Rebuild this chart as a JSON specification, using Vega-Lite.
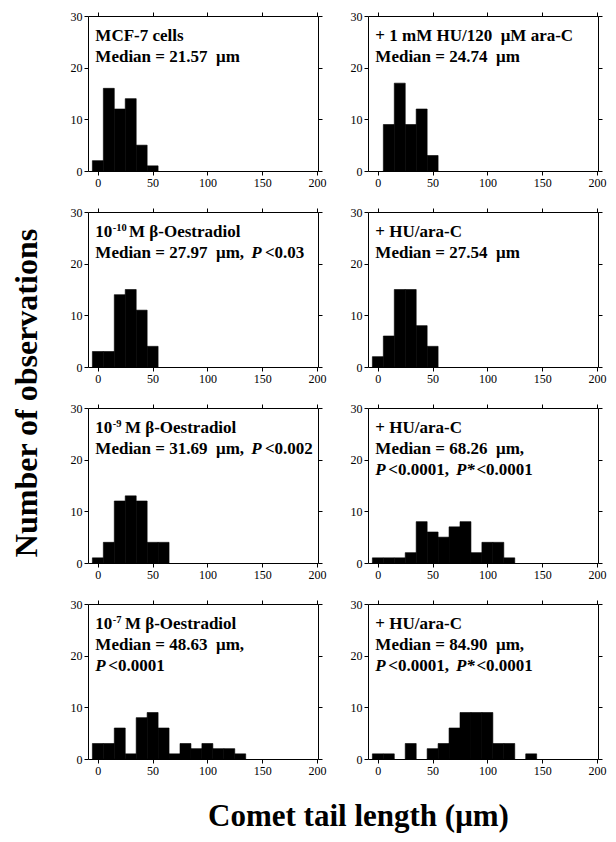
{
  "$schema": "https://vega.github.io/schema/vega-lite/v6.json",
  "background": "white",
  "padding": {"left": 10, "top": 10, "right": 5, "bottom": 5},
  "config": {
    "font": "Liberation Serif",
    "view": {"stroke": null},
    "axis": {"labelFont": "Liberation Serif", "labelFontSize": 12, "labelColor": "black", "domainColor": "black", "tickColor": "black", "grid": false, "tickSize": 4, "labelPadding": 2, "domainWidth": 1, "tickWidth": 1, "labelFlush": false, "labelOverlap": false},
    "text": {"font": "Liberation Serif", "fontWeight": "bold", "fontSize": 17, "align": "left", "baseline": "alphabetic", "color": "black"}
  },
  "title": {"text": "Comet tail length (μm)", "orient": "bottom", "anchor": "middle", "font": "Liberation Serif", "fontSize": 31, "fontWeight": "bold", "color": "black", "offset": 26, "dx": 50},
  "datasets": {
    "p1": [{"bin_start": -5, "bin_end": 5, "count": 2}, {"bin_start": 5, "bin_end": 15, "count": 16}, {"bin_start": 15, "bin_end": 25, "count": 12}, {"bin_start": 25, "bin_end": 35, "count": 14}, {"bin_start": 35, "bin_end": 45, "count": 5}, {"bin_start": 45, "bin_end": 55, "count": 1}],
    "p2": [{"bin_start": 5, "bin_end": 15, "count": 9}, {"bin_start": 15, "bin_end": 25, "count": 17}, {"bin_start": 25, "bin_end": 35, "count": 9}, {"bin_start": 35, "bin_end": 45, "count": 12}, {"bin_start": 45, "bin_end": 55, "count": 3}],
    "p3": [{"bin_start": -5, "bin_end": 5, "count": 3}, {"bin_start": 5, "bin_end": 15, "count": 3}, {"bin_start": 15, "bin_end": 25, "count": 14}, {"bin_start": 25, "bin_end": 35, "count": 15}, {"bin_start": 35, "bin_end": 45, "count": 11}, {"bin_start": 45, "bin_end": 55, "count": 4}],
    "p4": [{"bin_start": -5, "bin_end": 5, "count": 2}, {"bin_start": 5, "bin_end": 15, "count": 6}, {"bin_start": 15, "bin_end": 25, "count": 15}, {"bin_start": 25, "bin_end": 35, "count": 15}, {"bin_start": 35, "bin_end": 45, "count": 8}, {"bin_start": 45, "bin_end": 55, "count": 4}],
    "p5": [{"bin_start": -5, "bin_end": 5, "count": 1}, {"bin_start": 5, "bin_end": 15, "count": 4}, {"bin_start": 15, "bin_end": 25, "count": 12}, {"bin_start": 25, "bin_end": 35, "count": 13}, {"bin_start": 35, "bin_end": 45, "count": 12}, {"bin_start": 45, "bin_end": 55, "count": 4}, {"bin_start": 55, "bin_end": 65, "count": 4}],
    "p6": [{"bin_start": -5, "bin_end": 5, "count": 1}, {"bin_start": 5, "bin_end": 15, "count": 1}, {"bin_start": 15, "bin_end": 25, "count": 1}, {"bin_start": 25, "bin_end": 35, "count": 2}, {"bin_start": 35, "bin_end": 45, "count": 8}, {"bin_start": 45, "bin_end": 55, "count": 6}, {"bin_start": 55, "bin_end": 65, "count": 5}, {"bin_start": 65, "bin_end": 75, "count": 7}, {"bin_start": 75, "bin_end": 85, "count": 8}, {"bin_start": 85, "bin_end": 95, "count": 2}, {"bin_start": 95, "bin_end": 105, "count": 4}, {"bin_start": 105, "bin_end": 115, "count": 4}, {"bin_start": 115, "bin_end": 125, "count": 1}],
    "p7": [{"bin_start": -5, "bin_end": 5, "count": 3}, {"bin_start": 5, "bin_end": 15, "count": 3}, {"bin_start": 15, "bin_end": 25, "count": 6}, {"bin_start": 25, "bin_end": 35, "count": 1}, {"bin_start": 35, "bin_end": 45, "count": 8}, {"bin_start": 45, "bin_end": 55, "count": 9}, {"bin_start": 55, "bin_end": 65, "count": 6}, {"bin_start": 65, "bin_end": 75, "count": 1}, {"bin_start": 75, "bin_end": 85, "count": 3}, {"bin_start": 85, "bin_end": 95, "count": 2}, {"bin_start": 95, "bin_end": 105, "count": 3}, {"bin_start": 105, "bin_end": 115, "count": 2}, {"bin_start": 115, "bin_end": 125, "count": 2}, {"bin_start": 125, "bin_end": 135, "count": 1}],
    "p8": [{"bin_start": -5, "bin_end": 5, "count": 1}, {"bin_start": 5, "bin_end": 15, "count": 1}, {"bin_start": 25, "bin_end": 35, "count": 3}, {"bin_start": 45, "bin_end": 55, "count": 2}, {"bin_start": 55, "bin_end": 65, "count": 3}, {"bin_start": 65, "bin_end": 75, "count": 6}, {"bin_start": 75, "bin_end": 85, "count": 9}, {"bin_start": 85, "bin_end": 95, "count": 9}, {"bin_start": 95, "bin_end": 105, "count": 9}, {"bin_start": 105, "bin_end": 115, "count": 3}, {"bin_start": 115, "bin_end": 125, "count": 3}, {"bin_start": 135, "bin_end": 145, "count": 1}]
  },
  "vconcat": [{
    "title": {"text": "Number of observations", "orient": "left", "anchor": "middle", "font": "Liberation Serif", "fontSize": 32, "fontWeight": "bold", "color": "black", "offset": 26},
    "columns": 2,
    "spacing": {"row": 41, "column": 50},
    "bounds": "flush",
    "concat": [
      {"width": 230, "height": 155, "data": {"name": "p1"}, "resolve": {"axis": {"x": "independent", "y": "independent"}},
       "layer": [
        {"mark": {"type": "rect", "color": "black", "stroke": "black", "strokeWidth": 0.6}, "encoding": {"x": {"field": "bin_start", "type": "quantitative", "scale": {"domain": [-9, 201], "nice": false, "zero": false}, "axis": {"values": [0, 50, 100, 150, 200], "title": null}}, "x2": {"field": "bin_end"}, "y": {"field": "count", "type": "quantitative", "scale": {"domain": [0, 30], "nice": false}, "axis": {"values": [0, 10, 20, 30], "title": null}}, "y2": {"datum": 0}}},
        {"mark": {"type": "rect", "opacity": 0}, "encoding": {"x": {"field": "bin_start", "type": "quantitative", "axis": {"orient": "top", "values": [0, 50, 100, 150, 200], "labels": false, "title": null}}, "x2": {"field": "bin_end"}, "y": {"field": "count", "type": "quantitative", "axis": {"orient": "right", "values": [0, 10, 20, 30], "labels": false, "title": null}}, "y2": {"datum": 0}}},
        {"data": {"values": [{}]}, "layer": [
          {"mark": {"type": "text", "text": "MCF-7 cells"}, "encoding": {"x": {"datum": -2.3, "type": "quantitative", "axis": null}, "y": {"datum": 25.2, "type": "quantitative", "axis": null}}},
          {"mark": {"type": "text", "text": "Median = 21.57\u00a0 μm"}, "encoding": {"x": {"datum": -2.3, "type": "quantitative", "axis": null}, "y": {"datum": 21.15, "type": "quantitative", "axis": null}}}
        ]}
       ]},
      {"width": 230, "height": 155, "data": {"name": "p2"}, "resolve": {"axis": {"x": "independent", "y": "independent"}},
       "layer": [
        {"mark": {"type": "rect", "color": "black", "stroke": "black", "strokeWidth": 0.6}, "encoding": {"x": {"field": "bin_start", "type": "quantitative", "scale": {"domain": [-9, 201], "nice": false, "zero": false}, "axis": {"values": [0, 50, 100, 150, 200], "title": null}}, "x2": {"field": "bin_end"}, "y": {"field": "count", "type": "quantitative", "scale": {"domain": [0, 30], "nice": false}, "axis": {"values": [0, 10, 20, 30], "title": null}}, "y2": {"datum": 0}}},
        {"mark": {"type": "rect", "opacity": 0}, "encoding": {"x": {"field": "bin_start", "type": "quantitative", "axis": {"orient": "top", "values": [0, 50, 100, 150, 200], "labels": false, "title": null}}, "x2": {"field": "bin_end"}, "y": {"field": "count", "type": "quantitative", "axis": {"orient": "right", "values": [0, 10, 20, 30], "labels": false, "title": null}}, "y2": {"datum": 0}}},
        {"data": {"values": [{}]}, "layer": [
          {"mark": {"type": "text", "text": "+ 1 mM HU/120\u00a0 μM ara-C"}, "encoding": {"x": {"datum": -2.3, "type": "quantitative", "axis": null}, "y": {"datum": 25.2, "type": "quantitative", "axis": null}}},
          {"mark": {"type": "text", "text": "Median = 24.74\u00a0 μm"}, "encoding": {"x": {"datum": -2.3, "type": "quantitative", "axis": null}, "y": {"datum": 21.15, "type": "quantitative", "axis": null}}}
        ]}
       ]},
      {"width": 230, "height": 155, "data": {"name": "p3"}, "resolve": {"axis": {"x": "independent", "y": "independent"}},
       "layer": [
        {"mark": {"type": "rect", "color": "black", "stroke": "black", "strokeWidth": 0.6}, "encoding": {"x": {"field": "bin_start", "type": "quantitative", "scale": {"domain": [-9, 201], "nice": false, "zero": false}, "axis": {"values": [0, 50, 100, 150, 200], "title": null}}, "x2": {"field": "bin_end"}, "y": {"field": "count", "type": "quantitative", "scale": {"domain": [0, 30], "nice": false}, "axis": {"values": [0, 10, 20, 30], "title": null}}, "y2": {"datum": 0}}},
        {"mark": {"type": "rect", "opacity": 0}, "encoding": {"x": {"field": "bin_start", "type": "quantitative", "axis": {"orient": "top", "values": [0, 50, 100, 150, 200], "labels": false, "title": null}}, "x2": {"field": "bin_end"}, "y": {"field": "count", "type": "quantitative", "axis": {"orient": "right", "values": [0, 10, 20, 30], "labels": false, "title": null}}, "y2": {"datum": 0}}},
        {"data": {"values": [{}]}, "layer": [
          {"mark": {"type": "text", "text": "10"}, "encoding": {"x": {"datum": -2.3, "type": "quantitative", "axis": null}, "y": {"datum": 25.2, "type": "quantitative", "axis": null}}},
          {"mark": {"type": "text", "text": "-10", "fontSize": 10.5, "dy": -6}, "encoding": {"x": {"datum": 13.5, "type": "quantitative", "axis": null}, "y": {"datum": 25.2, "type": "quantitative", "axis": null}}},
          {"mark": {"type": "text", "text": "M β-Oestradiol"}, "encoding": {"x": {"datum": 28.5, "type": "quantitative", "axis": null}, "y": {"datum": 25.2, "type": "quantitative", "axis": null}}},
          {"mark": {"type": "text", "text": "Median = 27.97\u00a0 μm,"}, "encoding": {"x": {"datum": -2.3, "type": "quantitative", "axis": null}, "y": {"datum": 21.15, "type": "quantitative", "axis": null}}},
          {"mark": {"type": "text", "text": "P", "fontStyle": "italic"}, "encoding": {"x": {"datum": 140, "type": "quantitative", "axis": null}, "y": {"datum": 21.15, "type": "quantitative", "axis": null}}},
          {"mark": {"type": "text", "text": "<0.03"}, "encoding": {"x": {"datum": 152.5, "type": "quantitative", "axis": null}, "y": {"datum": 21.15, "type": "quantitative", "axis": null}}}
        ]}
       ]},
      {"width": 230, "height": 155, "data": {"name": "p4"}, "resolve": {"axis": {"x": "independent", "y": "independent"}},
       "layer": [
        {"mark": {"type": "rect", "color": "black", "stroke": "black", "strokeWidth": 0.6}, "encoding": {"x": {"field": "bin_start", "type": "quantitative", "scale": {"domain": [-9, 201], "nice": false, "zero": false}, "axis": {"values": [0, 50, 100, 150, 200], "title": null}}, "x2": {"field": "bin_end"}, "y": {"field": "count", "type": "quantitative", "scale": {"domain": [0, 30], "nice": false}, "axis": {"values": [0, 10, 20, 30], "title": null}}, "y2": {"datum": 0}}},
        {"mark": {"type": "rect", "opacity": 0}, "encoding": {"x": {"field": "bin_start", "type": "quantitative", "axis": {"orient": "top", "values": [0, 50, 100, 150, 200], "labels": false, "title": null}}, "x2": {"field": "bin_end"}, "y": {"field": "count", "type": "quantitative", "axis": {"orient": "right", "values": [0, 10, 20, 30], "labels": false, "title": null}}, "y2": {"datum": 0}}},
        {"data": {"values": [{}]}, "layer": [
          {"mark": {"type": "text", "text": "+ HU/ara-C"}, "encoding": {"x": {"datum": -2.3, "type": "quantitative", "axis": null}, "y": {"datum": 25.2, "type": "quantitative", "axis": null}}},
          {"mark": {"type": "text", "text": "Median = 27.54\u00a0 μm"}, "encoding": {"x": {"datum": -2.3, "type": "quantitative", "axis": null}, "y": {"datum": 21.15, "type": "quantitative", "axis": null}}}
        ]}
       ]},
      {"width": 230, "height": 155, "data": {"name": "p5"}, "resolve": {"axis": {"x": "independent", "y": "independent"}},
       "layer": [
        {"mark": {"type": "rect", "color": "black", "stroke": "black", "strokeWidth": 0.6}, "encoding": {"x": {"field": "bin_start", "type": "quantitative", "scale": {"domain": [-9, 201], "nice": false, "zero": false}, "axis": {"values": [0, 50, 100, 150, 200], "title": null}}, "x2": {"field": "bin_end"}, "y": {"field": "count", "type": "quantitative", "scale": {"domain": [0, 30], "nice": false}, "axis": {"values": [0, 10, 20, 30], "title": null}}, "y2": {"datum": 0}}},
        {"mark": {"type": "rect", "opacity": 0}, "encoding": {"x": {"field": "bin_start", "type": "quantitative", "axis": {"orient": "top", "values": [0, 50, 100, 150, 200], "labels": false, "title": null}}, "x2": {"field": "bin_end"}, "y": {"field": "count", "type": "quantitative", "axis": {"orient": "right", "values": [0, 10, 20, 30], "labels": false, "title": null}}, "y2": {"datum": 0}}},
        {"data": {"values": [{}]}, "layer": [
          {"mark": {"type": "text", "text": "10"}, "encoding": {"x": {"datum": -2.3, "type": "quantitative", "axis": null}, "y": {"datum": 25.2, "type": "quantitative", "axis": null}}},
          {"mark": {"type": "text", "text": "-9", "fontSize": 10.5, "dy": -6}, "encoding": {"x": {"datum": 13.5, "type": "quantitative", "axis": null}, "y": {"datum": 25.2, "type": "quantitative", "axis": null}}},
          {"mark": {"type": "text", "text": "M β-Oestradiol"}, "encoding": {"x": {"datum": 24.7, "type": "quantitative", "axis": null}, "y": {"datum": 25.2, "type": "quantitative", "axis": null}}},
          {"mark": {"type": "text", "text": "Median = 31.69\u00a0 μm,"}, "encoding": {"x": {"datum": -2.3, "type": "quantitative", "axis": null}, "y": {"datum": 21.15, "type": "quantitative", "axis": null}}},
          {"mark": {"type": "text", "text": "P", "fontStyle": "italic"}, "encoding": {"x": {"datum": 140, "type": "quantitative", "axis": null}, "y": {"datum": 21.15, "type": "quantitative", "axis": null}}},
          {"mark": {"type": "text", "text": "<0.002"}, "encoding": {"x": {"datum": 152.5, "type": "quantitative", "axis": null}, "y": {"datum": 21.15, "type": "quantitative", "axis": null}}}
        ]}
       ]},
      {"width": 230, "height": 155, "data": {"name": "p6"}, "resolve": {"axis": {"x": "independent", "y": "independent"}},
       "layer": [
        {"mark": {"type": "rect", "color": "black", "stroke": "black", "strokeWidth": 0.6}, "encoding": {"x": {"field": "bin_start", "type": "quantitative", "scale": {"domain": [-9, 201], "nice": false, "zero": false}, "axis": {"values": [0, 50, 100, 150, 200], "title": null}}, "x2": {"field": "bin_end"}, "y": {"field": "count", "type": "quantitative", "scale": {"domain": [0, 30], "nice": false}, "axis": {"values": [0, 10, 20, 30], "title": null}}, "y2": {"datum": 0}}},
        {"mark": {"type": "rect", "opacity": 0}, "encoding": {"x": {"field": "bin_start", "type": "quantitative", "axis": {"orient": "top", "values": [0, 50, 100, 150, 200], "labels": false, "title": null}}, "x2": {"field": "bin_end"}, "y": {"field": "count", "type": "quantitative", "axis": {"orient": "right", "values": [0, 10, 20, 30], "labels": false, "title": null}}, "y2": {"datum": 0}}},
        {"data": {"values": [{}]}, "layer": [
          {"mark": {"type": "text", "text": "+ HU/ara-C"}, "encoding": {"x": {"datum": -2.3, "type": "quantitative", "axis": null}, "y": {"datum": 25.2, "type": "quantitative", "axis": null}}},
          {"mark": {"type": "text", "text": "Median = 68.26\u00a0 μm,"}, "encoding": {"x": {"datum": -2.3, "type": "quantitative", "axis": null}, "y": {"datum": 21.15, "type": "quantitative", "axis": null}}},
          {"mark": {"type": "text", "text": "P", "fontStyle": "italic"}, "encoding": {"x": {"datum": -2.3, "type": "quantitative", "axis": null}, "y": {"datum": 17.1, "type": "quantitative", "axis": null}}},
          {"mark": {"type": "text", "text": "<0.0001,"}, "encoding": {"x": {"datum": 9.5, "type": "quantitative", "axis": null}, "y": {"datum": 17.1, "type": "quantitative", "axis": null}}},
          {"mark": {"type": "text", "text": "P*", "fontStyle": "italic"}, "encoding": {"x": {"datum": 71.3, "type": "quantitative", "axis": null}, "y": {"datum": 17.1, "type": "quantitative", "axis": null}}},
          {"mark": {"type": "text", "text": "<0.0001"}, "encoding": {"x": {"datum": 90, "type": "quantitative", "axis": null}, "y": {"datum": 17.1, "type": "quantitative", "axis": null}}}
        ]}
       ]},
      {"width": 230, "height": 155, "data": {"name": "p7"}, "resolve": {"axis": {"x": "independent", "y": "independent"}},
       "layer": [
        {"mark": {"type": "rect", "color": "black", "stroke": "black", "strokeWidth": 0.6}, "encoding": {"x": {"field": "bin_start", "type": "quantitative", "scale": {"domain": [-9, 201], "nice": false, "zero": false}, "axis": {"values": [0, 50, 100, 150, 200], "title": null}}, "x2": {"field": "bin_end"}, "y": {"field": "count", "type": "quantitative", "scale": {"domain": [0, 30], "nice": false}, "axis": {"values": [0, 10, 20, 30], "title": null}}, "y2": {"datum": 0}}},
        {"mark": {"type": "rect", "opacity": 0}, "encoding": {"x": {"field": "bin_start", "type": "quantitative", "axis": {"orient": "top", "values": [0, 50, 100, 150, 200], "labels": false, "title": null}}, "x2": {"field": "bin_end"}, "y": {"field": "count", "type": "quantitative", "axis": {"orient": "right", "values": [0, 10, 20, 30], "labels": false, "title": null}}, "y2": {"datum": 0}}},
        {"data": {"values": [{}]}, "layer": [
          {"mark": {"type": "text", "text": "10"}, "encoding": {"x": {"datum": -2.3, "type": "quantitative", "axis": null}, "y": {"datum": 25.2, "type": "quantitative", "axis": null}}},
          {"mark": {"type": "text", "text": "-7", "fontSize": 10.5, "dy": -6}, "encoding": {"x": {"datum": 13.5, "type": "quantitative", "axis": null}, "y": {"datum": 25.2, "type": "quantitative", "axis": null}}},
          {"mark": {"type": "text", "text": "M β-Oestradiol"}, "encoding": {"x": {"datum": 24.7, "type": "quantitative", "axis": null}, "y": {"datum": 25.2, "type": "quantitative", "axis": null}}},
          {"mark": {"type": "text", "text": "Median = 48.63\u00a0 μm,"}, "encoding": {"x": {"datum": -2.3, "type": "quantitative", "axis": null}, "y": {"datum": 21.15, "type": "quantitative", "axis": null}}},
          {"mark": {"type": "text", "text": "P", "fontStyle": "italic"}, "encoding": {"x": {"datum": -2.3, "type": "quantitative", "axis": null}, "y": {"datum": 17.1, "type": "quantitative", "axis": null}}},
          {"mark": {"type": "text", "text": "<0.0001"}, "encoding": {"x": {"datum": 9.5, "type": "quantitative", "axis": null}, "y": {"datum": 17.1, "type": "quantitative", "axis": null}}}
        ]}
       ]},
      {"width": 230, "height": 155, "data": {"name": "p8"}, "resolve": {"axis": {"x": "independent", "y": "independent"}},
       "layer": [
        {"mark": {"type": "rect", "color": "black", "stroke": "black", "strokeWidth": 0.6}, "encoding": {"x": {"field": "bin_start", "type": "quantitative", "scale": {"domain": [-9, 201], "nice": false, "zero": false}, "axis": {"values": [0, 50, 100, 150, 200], "title": null}}, "x2": {"field": "bin_end"}, "y": {"field": "count", "type": "quantitative", "scale": {"domain": [0, 30], "nice": false}, "axis": {"values": [0, 10, 20, 30], "title": null}}, "y2": {"datum": 0}}},
        {"mark": {"type": "rect", "opacity": 0}, "encoding": {"x": {"field": "bin_start", "type": "quantitative", "axis": {"orient": "top", "values": [0, 50, 100, 150, 200], "labels": false, "title": null}}, "x2": {"field": "bin_end"}, "y": {"field": "count", "type": "quantitative", "axis": {"orient": "right", "values": [0, 10, 20, 30], "labels": false, "title": null}}, "y2": {"datum": 0}}},
        {"data": {"values": [{}]}, "layer": [
          {"mark": {"type": "text", "text": "+ HU/ara-C"}, "encoding": {"x": {"datum": -2.3, "type": "quantitative", "axis": null}, "y": {"datum": 25.2, "type": "quantitative", "axis": null}}},
          {"mark": {"type": "text", "text": "Median = 84.90\u00a0 μm,"}, "encoding": {"x": {"datum": -2.3, "type": "quantitative", "axis": null}, "y": {"datum": 21.15, "type": "quantitative", "axis": null}}},
          {"mark": {"type": "text", "text": "P", "fontStyle": "italic"}, "encoding": {"x": {"datum": -2.3, "type": "quantitative", "axis": null}, "y": {"datum": 17.1, "type": "quantitative", "axis": null}}},
          {"mark": {"type": "text", "text": "<0.0001,"}, "encoding": {"x": {"datum": 9.5, "type": "quantitative", "axis": null}, "y": {"datum": 17.1, "type": "quantitative", "axis": null}}},
          {"mark": {"type": "text", "text": "P*", "fontStyle": "italic"}, "encoding": {"x": {"datum": 71.3, "type": "quantitative", "axis": null}, "y": {"datum": 17.1, "type": "quantitative", "axis": null}}},
          {"mark": {"type": "text", "text": "<0.0001"}, "encoding": {"x": {"datum": 90, "type": "quantitative", "axis": null}, "y": {"datum": 17.1, "type": "quantitative", "axis": null}}}
        ]}
       ]}
    ]
  }]
}
